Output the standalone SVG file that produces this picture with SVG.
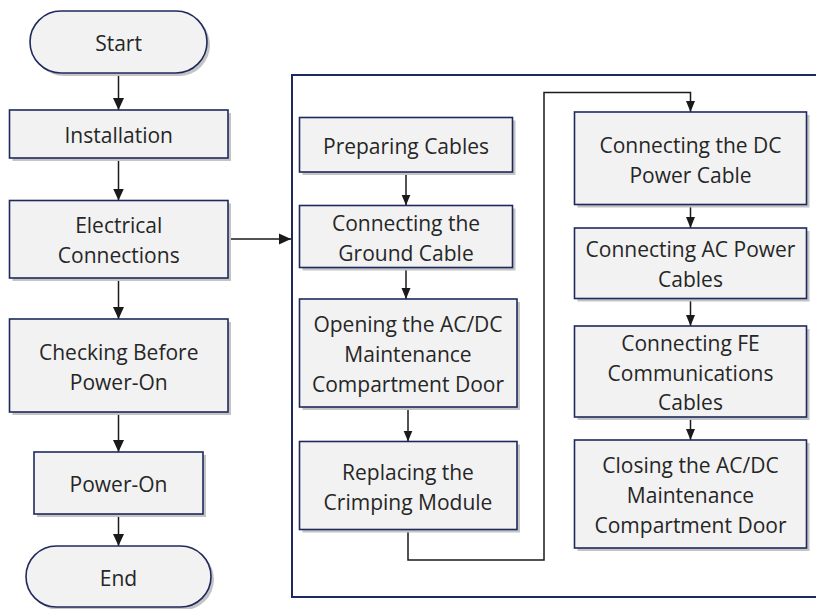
<svg xmlns="http://www.w3.org/2000/svg" width="816" height="609" viewBox="0 0 816 609">
<style>
.box{fill:#f2f2f2;stroke:#1f2a5c;stroke-width:1.6}
.sh{fill:#c4c4c4}
.t{font-family:"Open Sans","Noto Sans",sans-serif;font-size:21px;fill:#262626;text-anchor:middle}
.c{fill:none;stroke:#1a1a1a;stroke-width:1.5}
.frame{fill:none;stroke:#1f2a5c;stroke-width:2}
</style>
<defs>
<marker id="a" markerUnits="userSpaceOnUse" markerWidth="12" markerHeight="12" refX="12" refY="6" orient="auto">
<path d="M0,0.5 L12,6 L0,11.5 z" fill="#1a1a1a"/>
</marker>
<marker id="b" markerUnits="userSpaceOnUse" markerWidth="11" markerHeight="10" refX="11" refY="5" orient="auto">
<path d="M0,0.5 L11,5 L0,9.5 z" fill="#1a1a1a"/>
</marker>
</defs>
<rect class="frame" x="292" y="75" width="530" height="522"/>
<g id="connectors">
<line class="c" x1="118.5" y1="73" x2="118.5" y2="110" marker-end="url(#a)"/>
<line class="c" x1="118.5" y1="158" x2="118.5" y2="200.5" marker-end="url(#a)"/>
<line class="c" x1="118.5" y1="278" x2="118.5" y2="319" marker-end="url(#a)"/>
<line class="c" x1="118.5" y1="412" x2="118.5" y2="452" marker-end="url(#a)"/>
<line class="c" x1="118.5" y1="514" x2="118.5" y2="546" marker-end="url(#a)"/>
<line class="c" x1="228" y1="239" x2="291" y2="239" marker-end="url(#a)"/>
<line class="c" x1="406" y1="172" x2="406" y2="205.5" marker-end="url(#b)"/>
<line class="c" x1="406" y1="267.5" x2="406" y2="299" marker-end="url(#b)"/>
<line class="c" x1="408" y1="407" x2="408" y2="441.5" marker-end="url(#b)"/>
<polyline class="c" points="408,529.5 408,560 544,560 544,92.5 690.5,92.5 690.5,112" marker-end="url(#b)"/>
<line class="c" x1="690.5" y1="204.5" x2="690.5" y2="228" marker-end="url(#b)"/>
<line class="c" x1="690.5" y1="298.5" x2="690.5" y2="326" marker-end="url(#b)"/>
<line class="c" x1="690.5" y1="417" x2="690.5" y2="440" marker-end="url(#b)"/>
</g>
<g id="start">
<rect class="sh" x="33" y="14" width="177" height="62" rx="31"/>
<rect class="box" x="30" y="11" width="177" height="62" rx="31"/>
<text class="t" x="118.5" y="51">Start</text>
</g>
<g id="installation">
<rect class="sh" x="12.5" y="113" width="218.5" height="48"/>
<rect class="box" x="9.5" y="110" width="218.5" height="48"/>
<text class="t" x="118.75" y="143">Installation</text>
</g>
<g id="electrical">
<rect class="sh" x="12.5" y="203.5" width="218.5" height="77.5"/>
<rect class="box" x="9.5" y="200.5" width="218.5" height="77.5"/>
<text class="t" x="118.75" y="233">Electrical</text>
<text class="t" x="118.75" y="263">Connections</text>
</g>
<g id="checking">
<rect class="sh" x="12.5" y="322" width="218.5" height="93"/>
<rect class="box" x="9.5" y="319" width="218.5" height="93"/>
<text class="t" x="118.75" y="359.5">Checking Before</text>
<text class="t" x="118.75" y="389.5">Power-On</text>
</g>
<g id="poweron">
<rect class="sh" x="37" y="455" width="169" height="62"/>
<rect class="box" x="34" y="452" width="169" height="62"/>
<text class="t" x="118.5" y="492">Power-On</text>
</g>
<g id="end">
<rect class="sh" x="29" y="549" width="185" height="61" rx="30.5"/>
<rect class="box" x="26" y="546" width="185" height="61" rx="30.5"/>
<text class="t" x="118.5" y="586">End</text>
</g>
<g id="preparing">
<rect class="sh" x="302.5" y="120.5" width="213" height="54.5"/>
<rect class="box" x="299.5" y="117.5" width="213" height="54.5"/>
<text class="t" x="406" y="153.5">Preparing Cables</text>
</g>
<g id="ground">
<rect class="sh" x="302.5" y="208.5" width="213" height="62"/>
<rect class="box" x="299.5" y="205.5" width="213" height="62"/>
<text class="t" x="406" y="230.5">Connecting the</text>
<text class="t" x="406" y="260.5">Ground Cable</text>
</g>
<g id="opening">
<rect class="sh" x="302.5" y="302" width="217.5" height="108"/>
<rect class="box" x="299.5" y="299" width="217.5" height="108"/>
<text class="t" x="408" y="332">Opening the AC/DC</text>
<text class="t" x="408" y="362">Maintenance</text>
<text class="t" x="408" y="392">Compartment Door</text>
</g>
<g id="replacing">
<rect class="sh" x="302.5" y="444.5" width="217.5" height="88"/>
<rect class="box" x="299.5" y="441.5" width="217.5" height="88"/>
<text class="t" x="408" y="480">Replacing the</text>
<text class="t" x="408" y="510">Crimping Module</text>
</g>
<g id="dc">
<rect class="sh" x="577.5" y="115" width="232" height="92.5"/>
<rect class="box" x="574.5" y="112" width="232" height="92.5"/>
<text class="t" x="690.5" y="153">Connecting the DC</text>
<text class="t" x="690.5" y="183">Power Cable</text>
</g>
<g id="ac">
<rect class="sh" x="577.5" y="231" width="232" height="70.5"/>
<rect class="box" x="574.5" y="228" width="232" height="70.5"/>
<text class="t" x="690.5" y="257.3">Connecting AC Power</text>
<text class="t" x="690.5" y="287">Cables</text>
</g>
<g id="fe">
<rect class="sh" x="577.5" y="329" width="232" height="91"/>
<rect class="box" x="574.5" y="326" width="232" height="91"/>
<text class="t" x="690.5" y="350.5">Connecting FE</text>
<text class="t" x="690.5" y="380.5">Communications</text>
<text class="t" x="690.5" y="410.3">Cables</text>
</g>
<g id="closing">
<rect class="sh" x="577.5" y="443" width="232" height="108"/>
<rect class="box" x="574.5" y="440" width="232" height="108"/>
<text class="t" x="690.5" y="472.7">Closing the AC/DC</text>
<text class="t" x="690.5" y="502.7">Maintenance</text>
<text class="t" x="690.5" y="532.7">Compartment Door</text>
</g>
</svg>
